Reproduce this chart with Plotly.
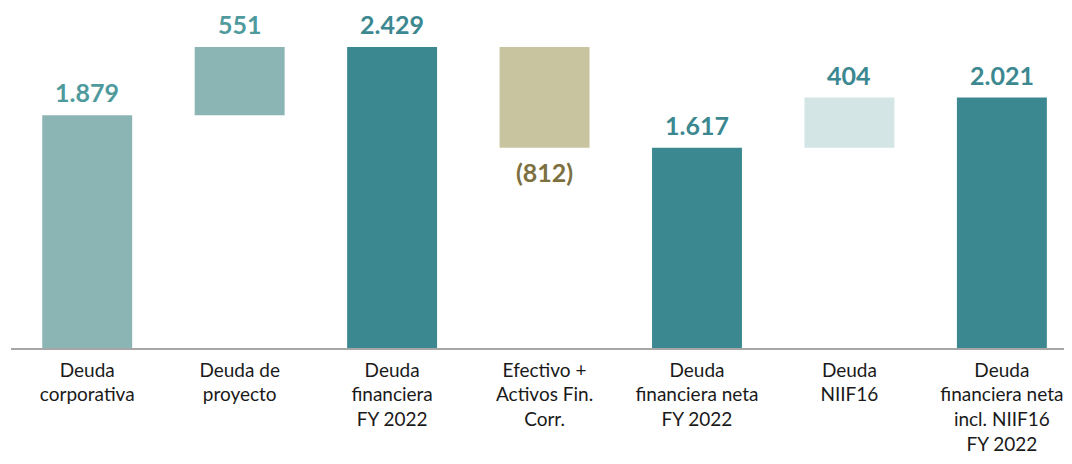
import plotly.graph_objects as go

categories = [
    "Deuda<br>corporativa",
    "Deuda de<br>proyecto",
    "Deuda<br>financiera<br>FY 2022",
    "Efectivo +<br>Activos Fin.<br>Corr.",
    "Deuda<br>financiera neta<br>FY 2022",
    "Deuda<br>NIIF16",
    "Deuda<br>financiera neta<br>incl. NIIF16<br>FY 2022",
]
values = [1879, 551, 2429, -812, 1617, 404, 2021]
kinds = ["absolute", "relative", "total", "relative", "total", "relative", "total"]
labels = ["1.879", "551", "2.429", "(812)", "1.617", "404", "2.021"]
bar_colors = ["#8BB5B5", "#8BB5B5", "#3C8891", "#C9C4A0", "#3C8891", "#D3E5E5", "#3C8891"]
label_colors = ["#4E9A9C", "#4E9A9C", "#3C8891", "#7D7040", "#3C8891", "#3C8891", "#3C8891"]

# compute bases / heights for floating bars
bases, heights = [], []
running = 0
for v, k in zip(values, kinds):
    if k == "relative":
        bases.append(running)
        heights.append(v)
        running += v
    else:
        bases.append(0)
        heights.append(v)
        running = v

fig = go.Figure()
fig.add_trace(go.Bar(
    x=categories, y=heights, base=bases,
    marker=dict(color=bar_colors, line=dict(width=0)),
    width=0.59, hoverinfo="skip", cliponaxis=False,
))

for c, b, h, t, col in zip(categories, bases, heights, labels, label_colors):
    top = b + h
    if h >= 0:
        y, shift = top, 23
    else:
        y, shift = top, -24
    fig.add_annotation(x=c, y=y, text=f"<b>{t}</b>", showarrow=False,
                       yanchor="middle", yshift=shift,
                       font=dict(family="Lato, Open Sans, sans-serif", size=25, color=col))

fig.update_layout(
    width=1064, height=456,
    margin=dict(l=3, r=0, t=0, b=116, autoexpand=False),
    paper_bgcolor="white", plot_bgcolor="white",
    showlegend=False,
    font=dict(family="Lato, Open Sans, sans-serif", size=19, color="#1a1a1a"),
    xaxis=dict(showline=True, linecolor="#A6A6A6", linewidth=1.5, ticks="",
               range=[-0.5, 6.46],
               automargin=False, ticklabelstandoff=4,
               showgrid=False, tickfont=dict(size=19, color="#1a1a1a"), fixedrange=True),
    yaxis=dict(range=[0, 2744], visible=False, showgrid=False, zeroline=False, fixedrange=True),
)

fig.write_html("out.html")
